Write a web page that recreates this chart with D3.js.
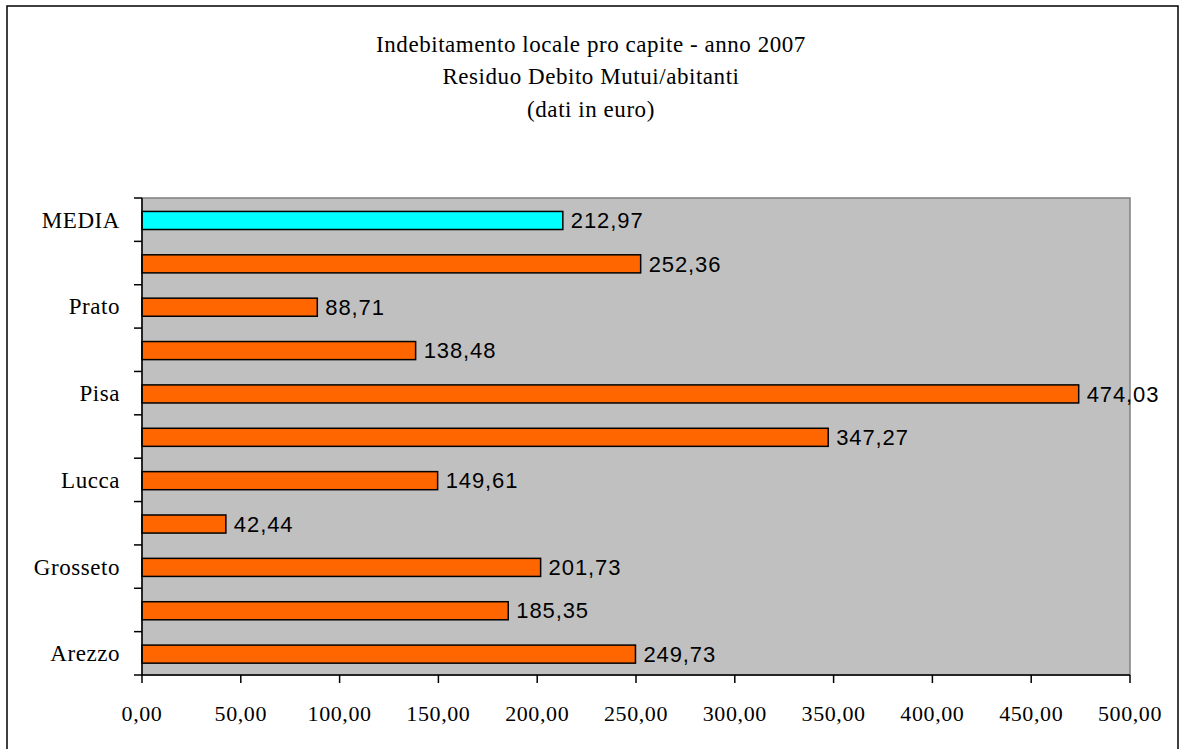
<!DOCTYPE html>
<html><head><meta charset="utf-8">
<script src="https://cdn.jsdelivr.net/npm/d3@7"></script>
<style>html,body{margin:0;padding:0;background:#fff;overflow:hidden}</style>
</head><body>
<svg id="c" width="1183" height="749"></svg>
<script>
const categories = ["Arezzo","Firenze","Grosseto","Livorno","Lucca","Massa Carrara","Pisa","Pistoia","Prato","Siena","MEDIA"];
const values = [249.73,185.35,201.73,42.44,149.61,347.27,474.03,138.48,88.71,252.36,212.97];
const shownLabels = ["Arezzo","Grosseto","Lucca","Pisa","Prato","MEDIA"];
const xTicks = [0,50,100,150,200,250,300,350,400,450,500];
const titleLines = ["Indebitamento locale pro capite - anno 2007","Residuo Debito Mutui/abitanti","(dati in euro)"];

const svg = d3.select("#c");
const L = 142, R = 1130, T = 198, B = 675;
const serif = "'Liberation Serif','Times New Roman',serif";
const sans = "'Liberation Sans',Arial,sans-serif";

svg.append("rect").attr("x",7).attr("y",6).attr("width",1171).attr("height",760)
  .attr("fill","#fff").attr("stroke","#000").attr("stroke-width",1.5);

const x = d3.scaleLinear().domain([0,500]).range([L,R]);
const y = d3.scaleBand().domain(categories.slice().reverse()).range([T,B]).paddingInner(0).paddingOuter(0);

svg.append("rect").attr("x",L).attr("y",T).attr("width",R-L).attr("height",B-T)
  .attr("fill","#C0C0C0").attr("stroke","#808080").attr("stroke-width",1.5);

// title
svg.append("g").selectAll("text").data(titleLines).join("text")
  .attr("x",591).attr("y",(d,i)=>51.5+i*32.5).attr("text-anchor","middle")
  .attr("font-family",serif).attr("font-size",23).attr("letter-spacing",0.55).attr("fill","#000").text(d=>d);

// bars
const bh = y.bandwidth()/2.4;
svg.append("g").selectAll("rect").data(categories).join("rect")
  .attr("x",x(0)).attr("y",d=>y(d)+y.bandwidth()/2-bh/2+0.8)
  .attr("width",(d,i)=>x(values[i])-x(0)).attr("height",bh)
  .attr("fill",d=>d==="MEDIA"?"#00FFFF":"#FF6600").attr("stroke","#000").attr("stroke-width",1.5);

// value labels
const fmt = v => v.toFixed(2).replace(".",",");
svg.append("g").selectAll("text").data(categories).join("text")
  .attr("x",(d,i)=>x(values[i])+8).attr("y",d=>y(d)+y.bandwidth()/2+8.5)
  .attr("font-family",sans).attr("font-size",22).attr("letter-spacing",0.9).attr("fill","#000")
  .text((d,i)=>fmt(values[i]));

// y axis
const ya = svg.append("g");
ya.append("line").attr("x1",L).attr("x2",L).attr("y1",T).attr("y2",B).attr("stroke","#000").attr("stroke-width",1.5);
const bounds = categories.map(c=>y(c)).concat([B]);
ya.selectAll("line.t").data(bounds).join("line").attr("class","t")
  .attr("x1",134).attr("x2",L).attr("y1",d=>d).attr("y2",d=>d).attr("stroke","#000").attr("stroke-width",1.5);
ya.selectAll("text").data(shownLabels).join("text")
  .attr("x",120).attr("y",d=>y(d)+y.bandwidth()/2+8).attr("text-anchor","end")
  .attr("font-family",serif).attr("font-size",23).attr("letter-spacing",0.55).attr("fill","#000").text(d=>d);

// x axis
const xa = svg.append("g");
xa.append("line").attr("x1",L).attr("x2",R).attr("y1",B).attr("y2",B).attr("stroke","#000").attr("stroke-width",1.5);
xa.selectAll("line.t").data(xTicks).join("line").attr("class","t")
  .attr("x1",d=>x(d)).attr("x2",d=>x(d)).attr("y1",B).attr("y2",B+8).attr("stroke","#000").attr("stroke-width",1.5);
xa.selectAll("text").data(xTicks).join("text")
  .attr("x",d=>x(d)).attr("y",720.5).attr("text-anchor","middle")
  .attr("font-family",serif).attr("font-size",22).attr("letter-spacing",0.6).attr("fill","#000").text(d=>fmt(d));
</script>
</body></html>
